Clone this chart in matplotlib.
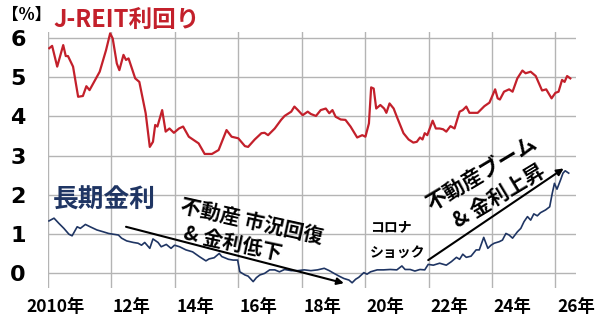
import matplotlib
matplotlib.use("Agg")
import matplotlib.pyplot as plt

# J-REIT dividend yield (%)
reit_x = [2010.04, 2010.13, 2010.29, 2010.48, 2010.56, 2010.63, 2010.79, 2010.95, 2011.10, 2011.21,
          2011.31, 2011.63, 2011.83, 2011.96, 2012.04, 2012.17, 2012.25, 2012.38, 2012.46, 2012.54,
          2012.75, 2012.88, 2013.08, 2013.21, 2013.31, 2013.38, 2013.45, 2013.60, 2013.71, 2013.83,
          2013.97, 2014.13, 2014.26, 2014.44, 2014.75, 2014.94, 2015.17, 2015.38, 2015.63, 2015.79,
          2016.00, 2016.21, 2016.31, 2016.52, 2016.73, 2016.83, 2016.94, 2017.15, 2017.35, 2017.46,
          2017.67, 2017.77, 2017.88, 2018.03, 2018.19, 2018.29, 2018.45, 2018.60, 2018.76, 2018.87,
          2018.97, 2019.07, 2019.23, 2019.38, 2019.54, 2019.75, 2019.91, 2020.01, 2020.12, 2020.19,
          2020.27, 2020.35, 2020.48, 2020.60, 2020.67, 2020.77, 2020.90, 2021.00, 2021.21, 2021.37,
          2021.52, 2021.63, 2021.73, 2021.81, 2021.88, 2021.96, 2022.13, 2022.23, 2022.35, 2022.46,
          2022.56, 2022.69, 2022.82, 2022.98, 2023.08, 2023.19, 2023.29, 2023.55, 2023.76, 2023.92,
          2024.10, 2024.18, 2024.25, 2024.38, 2024.54, 2024.65, 2024.80, 2024.96, 2025.06, 2025.22,
          2025.38, 2025.58, 2025.71, 2025.88, 2026.00, 2026.10, 2026.21, 2026.29, 2026.37, 2026.47]
reit_y = [5.74, 5.80, 5.27, 5.82, 5.54, 5.54, 5.27, 4.50, 4.52, 4.77,
          4.67, 5.14, 5.69, 6.12, 5.99, 5.35, 5.18, 5.57, 5.44, 5.48,
          4.97, 4.88, 4.08, 3.22, 3.35, 3.78, 3.74, 4.16, 3.61, 3.69,
          3.58, 3.69, 3.74, 3.48, 3.31, 3.04, 3.04, 3.14, 3.65, 3.48,
          3.44, 3.24, 3.22, 3.41, 3.57, 3.58, 3.52, 3.69, 3.91, 4.01,
          4.12, 4.25, 4.16, 4.03, 4.12, 4.06, 4.01, 4.16, 4.20, 4.08,
          4.16, 3.99, 3.92, 3.91, 3.74, 3.46, 3.52, 3.48, 3.82, 4.74,
          4.71, 4.20, 4.29, 4.20, 4.09, 4.33, 4.20, 3.99, 3.57, 3.41,
          3.33, 3.35, 3.46, 3.41, 3.57, 3.52, 3.89, 3.69, 3.69, 3.67,
          3.61, 3.75, 3.69, 4.12, 4.16, 4.25, 4.09, 4.09, 4.26, 4.35,
          4.69, 4.46, 4.43, 4.63, 4.69, 4.63, 4.97, 5.17, 5.10, 5.14,
          5.03, 4.66, 4.69, 4.46, 4.60, 4.63, 4.93, 4.88, 5.03, 4.97]

# long-term interest rate (%)
jgb_x = [2010.03, 2010.19, 2010.34, 2010.50, 2010.66, 2010.76, 2010.83, 2010.92, 2011.02, 2011.18,
         2011.33, 2011.54, 2011.75, 2011.91, 2012.06, 2012.22, 2012.32, 2012.48, 2012.69, 2012.84,
         2012.95, 2013.05, 2013.21, 2013.31, 2013.47, 2013.57, 2013.73, 2013.88, 2013.99, 2014.15,
         2014.35, 2014.56, 2014.77, 2014.98, 2015.08, 2015.24, 2015.40, 2015.48, 2015.69, 2015.84,
         2015.98, 2016.05, 2016.21, 2016.31, 2016.47, 2016.57, 2016.68, 2016.83, 2016.99, 2017.15,
         2017.30, 2017.46, 2017.67, 2017.88, 2018.08, 2018.29, 2018.50, 2018.71, 2018.87, 2019.02,
         2019.18, 2019.33, 2019.49, 2019.59, 2019.70, 2019.80, 2019.96, 2020.06, 2020.17, 2020.38,
         2020.58, 2020.79, 2021.00, 2021.16, 2021.26, 2021.42, 2021.57, 2021.73, 2021.88, 2021.99,
         2022.15, 2022.35, 2022.56, 2022.72, 2022.88, 2022.98, 2023.08, 2023.19, 2023.34, 2023.50,
         2023.60, 2023.74, 2023.87, 2023.97, 2024.07, 2024.23, 2024.33, 2024.44, 2024.54, 2024.65,
         2024.80, 2024.91, 2025.01, 2025.12, 2025.22, 2025.32, 2025.43, 2025.53, 2025.69, 2025.82,
         2025.90, 2025.97, 2026.05, 2026.16, 2026.24, 2026.31, 2026.42]
jgb_y = [1.33, 1.40, 1.27, 1.14, 0.99, 0.95, 1.05, 1.18, 1.14, 1.24,
         1.18, 1.10, 1.05, 1.01, 0.99, 0.97, 0.89, 0.82, 0.78, 0.76,
         0.71, 0.78, 0.63, 0.87, 0.78, 0.67, 0.73, 0.63, 0.71, 0.67,
         0.59, 0.54, 0.42, 0.31, 0.36, 0.39, 0.50, 0.42, 0.35, 0.33,
         0.33, 0.03, -0.05, -0.08, -0.22, -0.12, -0.05, -0.01, 0.08, 0.08,
         0.03, 0.09, 0.06, 0.06, 0.08, 0.06, 0.08, 0.12, 0.06, -0.01,
         -0.08, -0.14, -0.18, -0.25, -0.16, -0.11, 0.01, -0.03, 0.03, 0.08,
         0.08, 0.09, 0.08, 0.18, 0.09, 0.09, 0.05, 0.09, 0.08, 0.22,
         0.20, 0.25, 0.20, 0.29, 0.40, 0.35, 0.48, 0.40, 0.43, 0.59,
         0.59, 0.91, 0.63, 0.71, 0.76, 0.80, 0.84, 1.01, 0.97, 0.89,
         1.05, 1.14, 1.31, 1.44, 1.35, 1.51, 1.46, 1.54, 1.61, 1.69,
         2.03, 2.29, 2.14, 2.37, 2.55, 2.61, 2.55]

grid_years = [2010, 2012, 2014, 2016, 2018, 2020, 2022, 2024, 2026]
year_labels = ['2010年', '12年', '14年', '16年', '18年', '20年', '22年', '24年', '26年']
y_ticks = [0, 1, 2, 3, 4, 5, 6]

RED = '#c3202b'
NAVY = '#1f3563'
JP = ['Noto Sans CJK JP', 'DejaVu Sans']

fig = plt.figure(figsize=(6, 3.16), dpi=100)
ax = fig.add_axes([0.08, 0.0886, 0.88, 0.81])

ax.plot(reit_x, reit_y, color=RED, lw=1.6, zorder=3)
ax.plot(jgb_x, jgb_y, color=NAVY, lw=1.2, zorder=3)

ax.set_xlim(2010, 2026.5)
ax.set_ylim(-0.383, 6.153)

# gridlines at even years, labels sit a little to the right
label_pos = [y + 0.65 for y in grid_years]
label_pos[0] = grid_years[0] + 0.25
ax.set_xticks(grid_years, minor=True)
ax.set_xticks(label_pos, year_labels)
ax.set_yticks(y_ticks, [str(v) for v in y_ticks])
ax.grid(which='minor', axis='x', color='#b4b4b4', lw=1)
ax.grid(which='major', axis='y', color='#b4b4b4', lw=1)
ax.tick_params(which='both', length=0)
ax.tick_params(axis='x', pad=7)
ax.tick_params(axis='y', pad=16)
for lab in ax.get_xticklabels():
    lab.set_family(JP)
    lab.set_fontweight('bold')
    lab.set_fontsize(12.5)
for lab in ax.get_yticklabels():
    lab.set_family('DejaVu Sans')
    lab.set_fontweight('bold')
    lab.set_fontsize(16)
for s in ax.spines.values():
    s.set_visible(False)

fig.text(2 / 600, 1 - 15 / 316, '【%】', family=JP, fontweight='bold', fontsize=12,
         ha='left', va='center')
fig.text(53 / 600, 1 - 21 / 316, 'J-REIT利回り', family=JP, fontweight='bold', fontsize=17,
         color=RED, ha='left', va='center')
fig.text(53 / 600, 1 - 200 / 316, '長期金利', family=JP, fontweight='bold', fontsize=18.5,
         color=NAVY, ha='left', va='center')

# trend arrows
ax.annotate('', xy=(2019.33, -0.26), xytext=(2012.46, 1.18),
            arrowprops=dict(arrowstyle='-|>', color='black', lw=1.5, mutation_scale=10,
                            shrinkA=0, shrinkB=0), zorder=4)
ax.annotate('', xy=(2026.26, 2.67), xytext=(2021.99, 0.33),
            arrowprops=dict(arrowstyle='-|>', color='black', lw=1.5, mutation_scale=10,
                            shrinkA=0, shrinkB=0), zorder=4)

def px_text(x, y, s, size, rot):
    fig.text(x / 600, 1 - y / 316, s, family=JP, fontweight='bold', fontsize=size,
             rotation=rot, rotation_mode='anchor', ha='left', va='center')

px_text(181, 205, '不動産 市況回復', 14.5, -12.5)
px_text(184, 233, '& 金利低下', 14.5, -12)
px_text(428, 205, '不動産ブーム', 15, 31)
px_text(455, 223, '& 金利上昇', 15, 31)
px_text(370, 227, 'コロナ', 10, 0)
px_text(370, 254, 'ショック', 10, 0)

fig.savefig('out.png', dpi=100)
